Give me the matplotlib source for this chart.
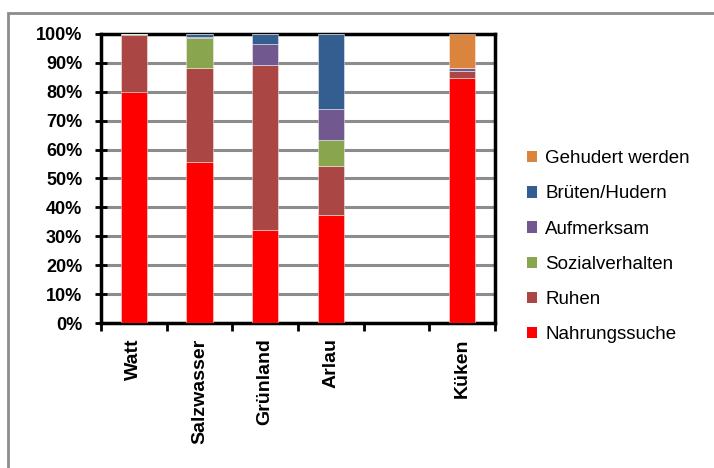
import matplotlib
matplotlib.use("Agg")
import matplotlib.pyplot as plt
from matplotlib.patches import Patch, Rectangle
import numpy as np

plt.rcParams['font.family'] = ['Liberation Sans', 'DejaVu Sans']

# Habitats / groups (one empty slot between Arlau and Küken)
categories = ["Watt", "Salzwasser", "Grünland", "Arlau", "", "Küken"]

# Share of time per behaviour (%), bottom to top
nahrungssuche   = [80.0, 55.6, 32.1, 37.5, 0.0, 84.7]
ruhen           = [19.5, 32.7, 57.3, 16.9, 0.0, 2.6]
sozialverhalten = [0.5, 10.2, 0.0, 8.8, 0.0, 0.0]
aufmerksam      = [0.0, 0.5, 7.0, 10.7, 0.0, 0.9]
brueten_hudern  = [0.0, 1.0, 3.6, 26.1, 0.0, 0.0]
gehudert_werden = [0.0, 0.0, 0.0, 0.0, 0.0, 11.8]

series = [
    ("Nahrungssuche", nahrungssuche, "#FF0000"),
    ("Ruhen", ruhen, "#AA4643"),
    ("Sozialverhalten", sozialverhalten, "#89A54E"),
    ("Aufmerksam", aufmerksam, "#71588F"),
    ("Brüten/Hudern", brueten_hudern, "#345E90"),
    ("Gehudert werden", gehudert_werden, "#DB843D"),
]

yticks = [0, 10, 20, 30, 40, 50, 60, 70, 80, 90, 100]
ytick_labels = [f"{v}%" for v in yticks]

fig = plt.figure(figsize=(7.14, 4.68), dpi=100)
ax = fig.add_axes([0.1415, 0.3098, 0.5518, 0.6176])

x = np.arange(len(categories))
bottom = np.zeros(len(categories))
handles = []
for name, vals, col in series:
    vals = np.array(vals, dtype=float)
    ax.bar(x, vals, width=0.4, bottom=bottom, color=col,
           edgecolor=(1, 1, 1, 0.5), linewidth=0.6, zorder=3)
    bottom += vals
    handles.append(Patch(facecolor=col, edgecolor='none', label=name))

ax.set_xlim(-0.5, len(categories) - 0.5)
ax.set_ylim(0, 100)

# Horizontal grid lines
ax.set_yticks(yticks)
ax.set_yticklabels(ytick_labels, fontsize=13, fontweight='bold')
ax.yaxis.grid(True, color='#8C8C8C', linewidth=2.2, zorder=0)
ax.set_axisbelow(True)
ax.tick_params(axis='y', direction='inout', length=9, width=2, pad=9)

# Category boundary ticks, labels centred in between
ax.set_xticks(np.arange(-0.5, len(categories), 1.0))
ax.set_xticklabels([])
ax.tick_params(axis='x', direction='out', length=6, width=2)
ax.set_xticks(x, minor=True)
ax.set_xticklabels(categories, minor=True, rotation=90, fontsize=14,
                   fontweight='bold', va='top', ha='center')
ax.tick_params(axis='x', which='minor', length=0, pad=11)

for s in ax.spines.values():
    s.set_linewidth(2.5)
    s.set_color('black')

leg = fig.legend(handles=handles[::-1], loc='center left',
                 bbox_to_anchor=(0.7245, 0.4727), frameon=False,
                 fontsize=13.5, handlelength=0.56, handleheight=0.56,
                 handletextpad=0.43, labelspacing=0.97, borderpad=0)

# Outer chart frame
fig.patches.append(Rectangle((8 / 714, -0.1), 1.2, 1 - 13 / 468 + 0.1,
                             transform=fig.transFigure, fill=False,
                             edgecolor='#8C8C8C', linewidth=2, zorder=0))

fig.savefig("out.png", dpi=100)
